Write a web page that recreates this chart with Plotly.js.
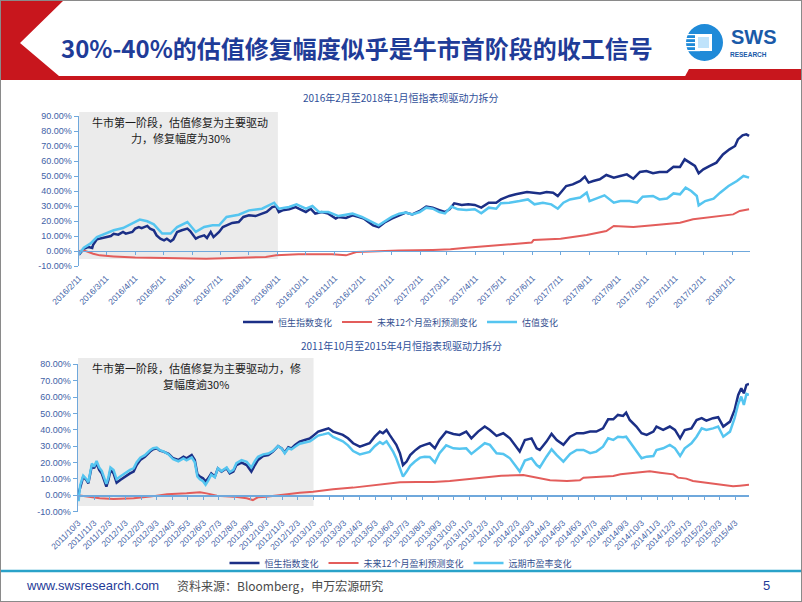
<!DOCTYPE html>
<html><head><meta charset="utf-8">
<script src="https://cdn.plot.ly/plotly-3.0.1.min.js"></script>
<style>html,body{margin:0;padding:0;background:#fff;overflow:hidden}#chart{width:802px;height:602px}</style>
</head><body><div id="chart"></div>
<script>
// ---------- Chart 1: 2016/2 - 2018/1 ----------
const c1HsiDates = ['2016-02-11','2016-02-12','2016-02-16','2016-02-21','2016-02-25','2016-02-26','2016-03-01','2016-03-04','2016-03-10','2016-03-16','2016-03-19','2016-03-24','2016-03-29','2016-04-01','2016-04-08','2016-04-11','2016-04-15','2016-04-18','2016-04-24','2016-04-27','2016-05-01','2016-05-04','2016-05-08','2016-05-12','2016-05-15','2016-05-19','2016-05-22','2016-05-26','2016-05-31','2016-06-06','2016-06-09','2016-06-15','2016-06-18','2016-06-24','2016-06-27','2016-07-01','2016-07-04','2016-07-10','2016-07-14','2016-07-18','2016-07-24','2016-07-31','2016-08-05','2016-08-11','2016-08-18','2016-08-25','2016-08-30','2016-09-05','2016-09-09','2016-09-12','2016-09-16','2016-09-23','2016-09-30','2016-10-05','2016-10-11','2016-10-16','2016-10-21','2016-10-28','2016-11-04','2016-11-12','2016-11-15','2016-11-23','2016-11-30','2016-12-07','2016-12-12','2016-12-17','2016-12-22','2016-12-28','2017-01-04','2017-01-11','2017-01-19','2017-01-26','2017-02-02','2017-02-10','2017-02-17','2017-02-24','2017-03-03','2017-03-09','2017-03-14','2017-03-19','2017-03-27','2017-04-03','2017-04-10','2017-04-17','2017-04-25','2017-05-03','2017-05-08','2017-05-17','2017-05-24','2017-06-05','2017-06-12','2017-06-19','2017-06-26','2017-07-03','2017-07-08','2017-07-12','2017-07-17','2017-07-24','2017-08-01','2017-08-06','2017-08-10','2017-08-15','2017-08-22','2017-08-29','2017-09-06','2017-09-13','2017-09-20','2017-09-27','2017-10-04','2017-10-11','2017-10-18','2017-10-25','2017-11-02','2017-11-09','2017-11-16','2017-11-21','2017-11-26','2017-12-02','2017-12-06','2017-12-11','2017-12-18','2017-12-25','2018-01-01','2018-01-08','2018-01-14','2018-01-17','2018-01-22','2018-01-26','2018-01-29'];
const c1HsiValues = [0,-1.5,1.5,2.7,2.0,4.2,7.8,8.2,8.7,10,11.5,10.9,12.7,11.6,12.7,14.9,16,15.3,16.7,14.9,13.8,10.4,8.2,7.1,8.2,6.4,7.8,12.7,13.8,14.9,13.3,8.2,9.3,10.4,8.7,12.7,9.3,12.7,16,17.1,18.7,19.3,22.7,23.8,23.3,24.9,26,29.3,29.8,26,27.1,27.8,29.3,27.8,26,28.2,24.9,26,24.9,21.6,22.7,22,23.8,22.7,21.6,19.3,17.1,16,19.3,21.6,23.5,25.6,24.4,26.7,29.6,28.9,27.3,26,27.8,31.8,30.7,31.1,30.7,28.9,32.2,32.2,34.4,36.7,37.8,39.3,38.9,38.4,39.3,38.9,36.7,40,43.3,44.4,46.7,49.6,45.6,46.7,47.8,50.7,48.9,50,51.1,48.2,52.7,53.3,51.8,52.7,52.7,56.2,56,61.1,59.3,56.7,51.8,54.4,56.7,58.9,64.4,67.8,70,74.4,77.1,77.8,76.7];

const c1EpsDates = ['2016-02-11','2016-02-16','2016-02-26','2016-03-04','2016-03-19','2016-03-29','2016-04-11','2016-05-13','2016-06-05','2016-06-26','2016-07-24','2016-08-29','2016-09-09','2016-10-03','2016-11-08','2016-11-23','2016-12-04','2016-12-21','2017-01-19','2017-02-24','2017-03-15','2017-04-01','2017-05-07','2017-06-10','2017-06-12','2017-07-11','2017-08-08','2017-08-29','2017-09-06','2017-09-27','2017-10-18','2017-11-16','2017-11-30','2017-12-22','2018-01-12','2018-01-19','2018-01-29'];
const c1EpsValues = [0,0.4,-1.8,-2.9,-3.6,-4,-4.4,-4.7,-4.9,-5.1,-4.7,-4,-2.9,-2.2,-2.2,-2.9,-0.7,-0.2,0.4,0.7,1.1,2.2,3.8,5.6,7.3,8.2,10.7,13.3,16.7,16,17.1,18.9,21.1,22.7,24.4,26.7,27.8];

const c1ValDates = ['2016-02-11','2016-02-12','2016-02-16','2016-02-23','2016-03-01','2016-03-10','2016-03-19','2016-03-29','2016-04-11','2016-04-16','2016-04-24','2016-05-01','2016-05-10','2016-05-19','2016-05-26','2016-06-06','2016-06-15','2016-06-24','2016-07-03','2016-07-10','2016-07-18','2016-07-31','2016-08-11','2016-08-25','2016-09-07','2016-09-12','2016-09-23','2016-10-01','2016-10-11','2016-10-18','2016-10-25','2016-11-04','2016-11-15','2016-11-30','2016-12-10','2016-12-17','2016-12-28','2017-01-11','2017-01-19','2017-01-26','2017-02-02','2017-02-10','2017-02-17','2017-02-24','2017-03-03','2017-03-09','2017-03-16','2017-03-23','2017-04-01','2017-04-10','2017-04-17','2017-04-25','2017-05-03','2017-05-08','2017-05-17','2017-05-28','2017-06-06','2017-06-13','2017-06-22','2017-07-01','2017-07-08','2017-07-14','2017-07-21','2017-08-01','2017-08-08','2017-08-11','2017-08-18','2017-08-27','2017-09-06','2017-09-13','2017-09-23','2017-10-01','2017-10-07','2017-10-18','2017-10-25','2017-11-02','2017-11-09','2017-11-16','2017-11-22','2017-11-28','2017-12-04','2017-12-06','2017-12-13','2017-12-22','2017-12-29','2018-01-07','2018-01-16','2018-01-23','2018-01-29'];
const c1ValValues = [0,-1,2.2,4.9,9.3,11.6,13.8,15.3,19.3,20.9,19.8,17.8,11.6,11.6,16,19.3,12.7,16,17.1,17.1,22.7,24.2,27.1,28.2,32.2,28.2,29.3,31.1,28.2,30,26,26,23.3,24.9,22.7,20.4,17.1,22.7,24.9,25.6,24.4,26,28.9,28.2,26,25.1,29.6,27.8,27.3,27.8,25.1,28.9,28.2,31.8,32.2,33.3,34.4,31.1,32.2,31.1,28.2,32.2,34.4,35.6,38.9,33.3,34.9,37.1,32.2,33.3,33.3,32.2,36.2,36.7,34.4,35,38.4,37.8,42.2,40,36.7,30.4,33.3,34.9,38.9,43.3,46.7,50,48.9];

const c1YTicks = [-10,0,10,20,30,40,50,60,70,80,90];
const c1YTickText = ['-10.00%','0.00%','10.00%','20.00%','30.00%','40.00%','50.00%','60.00%','70.00%','80.00%','90.00%'];

// ---------- Chart 2: 2011/10 - 2015/4 ----------
const c2HsiDates = ['2011-10-03','2011-10-07','2011-10-13','2011-10-19','2011-10-23','2011-10-30','2011-11-03','2011-11-08','2011-11-13','2011-11-18','2011-11-23','2011-11-27','2011-12-01','2011-12-05','2011-12-11','2011-12-17','2011-12-24','2012-01-02','2012-01-12','2012-01-19','2012-01-25','2012-02-01','2012-02-10','2012-02-20','2012-02-26','2012-03-04','2012-03-10','2012-03-17','2012-03-27','2012-04-05','2012-04-15','2012-04-25','2012-05-01','2012-05-11','2012-05-17','2012-05-22','2012-05-27','2012-06-02','2012-06-07','2012-06-12','2012-06-18','2012-06-25','2012-07-01','2012-07-08','2012-07-18','2012-07-24','2012-07-31','2012-08-06','2012-08-16','2012-08-26','2012-09-04','2012-09-11','2012-09-17','2012-09-27','2012-10-07','2012-10-16','2012-10-26','2012-11-02','2012-11-08','2012-11-15','2012-11-21','2012-11-28','2012-12-07','2012-12-17','2012-12-27','2013-01-02','2013-01-12','2013-01-22','2013-02-01','2013-02-10','2013-02-20','2013-03-01','2013-03-11','2013-03-21','2013-04-03','2013-04-12','2013-04-22','2013-05-02','2013-05-12','2013-05-18','2013-05-25','2013-05-31','2013-06-07','2013-06-13','2013-06-20','2013-06-26','2013-07-03','2013-07-10','2013-07-19','2013-07-29','2013-08-07','2013-08-17','2013-08-27','2013-09-05','2013-09-18','2013-10-02','2013-10-14','2013-10-27','2013-11-06','2013-11-19','2013-12-02','2013-12-12','2013-12-25','2014-01-07','2014-01-20','2014-02-02','2014-02-08','2014-02-18','2014-03-03','2014-03-13','2014-03-19','2014-04-01','2014-04-11','2014-04-21','2014-05-04','2014-05-17','2014-05-30','2014-06-12','2014-06-25','2014-07-07','2014-07-20','2014-07-30','2014-08-09','2014-08-18','2014-08-28','2014-09-03','2014-09-10','2014-09-23','2014-10-03','2014-10-13','2014-10-26','2014-11-01','2014-11-14','2014-11-27','2014-12-07','2014-12-17','2014-12-26','2015-01-08','2015-01-18','2015-01-28','2015-02-06','2015-02-19','2015-03-01','2015-03-11','2015-03-24','2015-04-02','2015-04-09','2015-04-15','2015-04-20','2015-04-25','2015-04-30'];
const c2HsiValues = [0,5.3,11.4,9.4,7.3,18.5,16.5,19.6,15.5,13.4,8.4,5.3,9.4,15.5,13.4,7.7,9.4,11.4,13.4,14.5,18.5,21.6,23.6,26.7,28.1,28.7,27.3,26.7,25.3,22.6,21.6,23.6,22.6,24.6,21.6,13,11.4,10.4,8.4,10.4,13.4,11.4,16.5,14.5,16.5,13.4,14.5,18.5,20,18.5,14.5,18.5,21.6,24,24.6,26.7,30.1,28.7,26.1,29.3,28.7,30.8,32.8,33.8,34.8,36.3,38.9,39.9,40.9,38.9,37.9,36.9,34.8,31.8,29.7,30.8,31.8,35.8,38.9,37.9,39.9,36.9,33.8,30.8,25.7,18.5,20.6,24.6,27.3,29.7,30.8,31.8,28.7,33.8,38.9,37.5,36.9,38.9,34.8,38.9,42,39.9,36.3,37.9,34.8,29.3,26.7,33.8,34.8,28.7,27.7,32.8,37.5,33.8,30.8,35.8,37.9,37.9,38.9,38.9,40.9,46.4,46.4,49.1,48.5,50.5,46,42,37.9,36.9,38.9,42,39.9,42,39.9,34.8,39.9,40.9,46,47.1,45.6,47.1,47.7,42,45,52.1,61.3,65.4,62.3,67.4,68];

const c2EpsDates = ['2011-10-03','2011-10-20','2011-11-14','2011-12-11','2012-01-19','2012-02-20','2012-03-24','2012-05-01','2012-05-27','2012-06-09','2012-06-29','2012-07-31','2012-08-26','2012-09-07','2012-09-17','2012-10-03','2012-10-29','2012-11-18','2012-12-07','2013-01-02','2013-02-10','2013-03-21','2013-04-16','2013-05-18','2013-06-20','2013-07-22','2013-08-24','2013-09-25','2013-10-27','2013-11-28','2014-01-03','2014-02-15','2014-02-28','2014-03-22','2014-04-08','2014-05-11','2014-06-05','2014-06-12','2014-07-14','2014-08-09','2014-08-23','2014-09-16','2014-10-19','2014-11-08','2014-12-04','2014-12-13','2014-12-29','2015-01-11','2015-02-06','2015-03-04','2015-03-30','2015-04-12','2015-04-30'];
const c2EpsValues = [0,-0.8,-1.8,-2.2,-1.8,-0.8,0.6,1.2,1.8,1.2,-0.2,-0.8,-1.8,-2.9,-1.2,-0.8,0.2,0.6,1.6,2.2,3.7,4.7,5.7,6.9,8,8.1,8.1,8.8,9.8,11.2,12,12.4,11.6,10.2,9.2,8.8,9.2,10.8,11.2,11.8,12.8,13.6,14.7,13.8,12.8,10.8,10.2,8.8,7.7,6.7,5.5,5.9,6.5];

const c2PeDates = ['2011-10-03','2011-10-04','2011-10-07','2011-10-13','2011-10-19','2011-10-23','2011-10-30','2011-11-03','2011-11-08','2011-11-13','2011-11-18','2011-11-23','2011-11-27','2011-12-01','2011-12-05','2011-12-11','2011-12-17','2011-12-24','2012-01-02','2012-01-12','2012-01-19','2012-01-25','2012-02-01','2012-02-10','2012-02-20','2012-02-26','2012-03-04','2012-03-10','2012-03-17','2012-03-27','2012-04-05','2012-04-15','2012-04-25','2012-05-01','2012-05-11','2012-05-17','2012-05-22','2012-05-27','2012-06-02','2012-06-07','2012-06-12','2012-06-18','2012-06-25','2012-07-01','2012-07-08','2012-07-18','2012-07-24','2012-07-31','2012-08-06','2012-08-16','2012-08-26','2012-09-04','2012-09-11','2012-09-17','2012-09-27','2012-10-07','2012-10-16','2012-10-26','2012-11-02','2012-11-08','2012-11-15','2012-11-21','2012-11-28','2012-12-07','2012-12-17','2012-12-27','2013-01-02','2013-01-12','2013-01-22','2013-02-01','2013-02-10','2013-02-20','2013-03-01','2013-03-11','2013-03-21','2013-04-03','2013-04-12','2013-04-22','2013-05-02','2013-05-12','2013-05-18','2013-05-25','2013-05-31','2013-06-07','2013-06-13','2013-06-20','2013-06-26','2013-07-03','2013-07-10','2013-07-19','2013-07-29','2013-08-07','2013-08-17','2013-08-27','2013-09-05','2013-09-18','2013-10-02','2013-10-14','2013-10-27','2013-11-06','2013-11-19','2013-12-02','2013-12-12','2013-12-25','2014-01-07','2014-01-20','2014-02-02','2014-02-08','2014-02-18','2014-03-03','2014-03-13','2014-03-19','2014-04-01','2014-04-11','2014-04-21','2014-05-04','2014-05-17','2014-05-30','2014-06-12','2014-06-25','2014-07-07','2014-07-20','2014-07-30','2014-08-09','2014-08-18','2014-08-28','2014-09-03','2014-09-10','2014-09-23','2014-10-03','2014-10-13','2014-10-26','2014-11-01','2014-11-14','2014-11-27','2014-12-07','2014-12-17','2014-12-26','2015-01-08','2015-01-18','2015-01-28','2015-02-06','2015-02-19','2015-03-01','2015-03-11','2015-03-24','2015-04-02','2015-04-09','2015-04-15','2015-04-20','2015-04-25','2015-04-30'];
const c2PeValues = [0,-3.5,6,12,10,8,19.5,17.5,21,17,15,10,7,11,17,15.5,9.8,11.5,13.5,15.5,16.5,20.2,23,24.5,27.5,28.8,29.2,27.6,26.8,25,22,20.8,22.5,21.4,23.2,20.2,11.5,9.8,8.6,6.5,9,12.6,11,16.5,14.8,17,14.2,15.5,19.6,21.5,20.5,17,21,23.5,25,25.5,27,30,28.5,25.7,28.7,28,29.7,31.5,32.3,33,34.2,36.5,37.2,38,35.6,34.2,33,30.5,27,25,25.8,26.5,30,32.5,31.3,33,30,26.5,22.5,17,11.4,14.5,18,20.6,23,23.6,23.4,20,25.7,30.5,28.7,28.5,28.7,25.3,28.7,31.8,30.8,25.7,25.3,22.6,17.1,14.5,21.2,22.6,18.5,17.1,23.6,28.1,24.6,20.6,25.3,27.7,27.7,25.7,26.7,29.7,34.8,33.8,35.8,35.5,35.8,32.8,26.7,22.6,23.6,24,27.7,28.7,30.8,28.7,24,28.7,31.8,35.8,40.9,39.9,40.9,42,35.8,38.9,47.1,55.8,60.3,55.2,61.9,61.3];

const c2YTicks = [-10,0,10,20,30,40,50,60,70,80];
const c2YTickText = ['-10.00%','0.00%','10.00%','20.00%','30.00%','40.00%','50.00%','60.00%','70.00%','80.00%'];

const seriesNames1 = ['恒生指数变化','未来12个月盈利预测变化','估值变化'];
const seriesNames2 = ['恒生指数变化','未来12个月盈利预测变化','远期市盈率变化'];

// ---------- styling helpers ----------
const W = 802, H = 602;
const px = x => x / W;
const py = y => 1 - y / H;
const C_HSI = '#1b2f86', C_EPS = '#e35d5b', C_PE = '#55c5f0';
const AX = '#6fa8dc', TICKC = '#4262a6';
const CJK = 'Noto Sans CJK SC, sans-serif';

const traces = [
  {x:c1HsiDates, y:c1HsiValues, name:seriesNames1[0], type:'scatter', mode:'lines', line:{color:C_HSI,width:2.5}, xaxis:'x', yaxis:'y', legend:'legend'},
  {x:c1EpsDates, y:c1EpsValues, name:seriesNames1[1], type:'scatter', mode:'lines', line:{color:C_EPS,width:2}, xaxis:'x', yaxis:'y', legend:'legend'},
  {x:c1ValDates, y:c1ValValues, name:seriesNames1[2], type:'scatter', mode:'lines', line:{color:C_PE,width:2.5}, xaxis:'x', yaxis:'y', legend:'legend'},
  {x:c2HsiDates, y:c2HsiValues, name:seriesNames2[0], type:'scatter', mode:'lines', line:{color:C_HSI,width:2.5}, xaxis:'x2', yaxis:'y2', legend:'legend2'},
  {x:c2EpsDates, y:c2EpsValues, name:seriesNames2[1], type:'scatter', mode:'lines', line:{color:C_EPS,width:2}, xaxis:'x2', yaxis:'y2', legend:'legend2'},
  {x:c2PeDates, y:c2PeValues, name:seriesNames2[2], type:'scatter', mode:'lines', line:{color:C_PE,width:2.5}, xaxis:'x2', yaxis:'y2', legend:'legend2'}
];

function xAxis(domain, zeroPy, range, tick0) {
  return {domain:domain, anchor:'free', position:py(zeroPy), type:'date', range:range,
    tick0:tick0, dtick:'M1', tickformat:'%Y/%-m/%-d', tickangle:-45,
    tickfont:{size:8.5, color:TICKC, family:'Liberation Sans, Arial, sans-serif'},
    ticks:'outside', ticklen:3, tickcolor:AX, showline:true, linecolor:AX, linewidth:1.5,
    showgrid:false, zeroline:false, ticklabelstandoff:15, fixedrange:true};
}
function yAxis(domain, anchor, range, tv, tt) {
  return {domain:domain, anchor:anchor, range:range, tickvals:tv, ticktext:tt,
    tickfont:{size:9, color:TICKC, family:'Liberation Sans, Arial, sans-serif'},
    ticks:'outside', ticklen:4, tickcolor:AX, showline:true, linecolor:AX, linewidth:1.5,
    showgrid:false, zeroline:false, fixedrange:true};
}

const legendStyle = y => ({orientation:'h', x:0.5, xanchor:'center', y:py(y), yanchor:'middle',
  font:{size:9, color:'#34508f', family:CJK}, bgcolor:'rgba(0,0,0,0)', traceorder:'normal', itemwidth:30});

const shapes = [
  // title banner red chevron
  {type:'path', xref:'paper', yref:'paper', layer:'above',
   path:`M ${px(0)},${py(0)} L ${px(64)},${py(0)} L ${px(20)},${py(43)} L ${px(59)},${py(76)} L ${px(802)},${py(76)} L ${px(802)},${py(80)} L ${px(0)},${py(80)} Z`,
   fillcolor:'#c8161d', line:{width:0}},
  {type:'path', xref:'paper', yref:'paper', layer:'above',
   path:`M ${px(683)},${py(80)} L ${px(689)},${py(69)} L ${px(802)},${py(69)} L ${px(802)},${py(80)} Z`,
   fillcolor:'#c8161d', line:{width:0}},
  // logo
  {type:'circle', xref:'paper', yref:'paper', x0:px(686), x1:px(723), y0:py(61), y1:py(24), fillcolor:'#1f8ad8', line:{width:0}},
  {type:'rect', xref:'paper', yref:'paper', x0:px(686), x1:px(700), y0:py(34), y1:py(35.2), fillcolor:'#ffffff', line:{width:0}},
  {type:'rect', xref:'paper', yref:'paper', x0:px(686), x1:px(700), y0:py(38), y1:py(39.2), fillcolor:'#ffffff', line:{width:0}},
  {type:'rect', xref:'paper', yref:'paper', x0:px(686), x1:px(700), y0:py(42), y1:py(43.2), fillcolor:'#ffffff', line:{width:0}},
  {type:'rect', xref:'paper', yref:'paper', x0:px(686), x1:px(700), y0:py(46), y1:py(47.2), fillcolor:'#ffffff', line:{width:0}},
  {type:'rect', xref:'paper', yref:'paper', x0:px(686), x1:px(700), y0:py(50), y1:py(51.2), fillcolor:'#ffffff', line:{width:0}},
  {type:'rect', xref:'paper', yref:'paper', x0:px(695), x1:px(712), y0:py(51), y1:py(34), fillcolor:'#ffffff', line:{width:0}},
  {type:'rect', xref:'paper', yref:'paper', x0:px(698), x1:px(709), y0:py(48), y1:py(37), fillcolor:'#bfe3fb', line:{width:0}},
  // grey highlight boxes
  {type:'rect', xref:'x', yref:'paper', x0:'2016-02-11', x1:'2016-09-11', y0:py(259), y1:py(112), fillcolor:'#ebebeb', line:{width:0}, layer:'below'},
  {type:'rect', xref:'x2', yref:'paper', x0:'2011-10-03', x1:'2013-01-03', y0:py(506), y1:py(358), fillcolor:'#ebebeb', line:{width:0}, layer:'below'},
  // footer teal line
  {type:'line', xref:'paper', yref:'paper', x0:0, x1:1, y0:py(571), y1:py(571), line:{color:'#2aa2c9', width:2.5}},
  // slide border
  {type:'rect', xref:'paper', yref:'paper', x0:0, x1:1, y0:0, y1:1, line:{color:'#8a8a8a', width:2}, fillcolor:'rgba(0,0,0,0)', layer:'above'}
];

const note = (t, x, y) => ({text:t, xref:'paper', yref:'paper', x:px(x), y:py(y), xanchor:'center', yanchor:'middle', showarrow:false,
   borderpad:0, font:{size:11, color:'#1a1a1a', family:CJK}});

const annotations = [
  {text:'<b>30%-40%的估值修复幅度似乎是牛市首阶段的收工信号</b>', xref:'paper', yref:'paper', x:px(357), y:py(47), xanchor:'center', yanchor:'middle', showarrow:false,
   font:{size:24, color:'#1f3c98', family:CJK}},
  {text:'<b>SWS</b>', xref:'paper', yref:'paper', x:px(754), y:py(37), xanchor:'center', yanchor:'middle', showarrow:false,
   font:{size:20, color:'#1a5aa8', family:'Liberation Sans, Arial, sans-serif'}},
  {text:'<b>RESEARCH</b>', xref:'paper', yref:'paper', x:px(748), y:py(55), xanchor:'center', yanchor:'middle', showarrow:false,
   font:{size:6.5, color:'#1a5aa8', family:'Liberation Sans, Arial, sans-serif'}},
  {text:'2016年2月至2018年1月恒指表现驱动力拆分', xref:'paper', yref:'paper', x:px(401), y:py(97), xanchor:'center', yanchor:'middle', showarrow:false,
   font:{size:10, color:'#2f4f9a', family:CJK}},
  {text:'2011年10月至2015年4月恒指表现驱动力拆分', xref:'paper', yref:'paper', x:px(401), y:py(345), xanchor:'center', yanchor:'middle', showarrow:false,
   font:{size:10, color:'#2f4f9a', family:CJK}},
  note('牛市第一阶段，估值修复为主要驱动', 180, 122),
  note('力，修复幅度为30%', 180, 137.5),
  note('牛市第一阶段，估值修复为主要驱动力，修', 196, 368),
  note('复幅度逾30%', 196, 383.5),
  {text:'www.swsresearch.com', xref:'paper', yref:'paper', x:px(24), y:py(585), xanchor:'left', yanchor:'middle', showarrow:false,
   font:{size:13, color:'#1f3c98', family:'Liberation Sans Narrow, Liberation Sans, Arial, sans-serif'}},
  {text:'资料来源：Bloomberg，申万宏源研究', xref:'paper', yref:'paper', x:px(175), y:py(585), xanchor:'left', yanchor:'middle', showarrow:false,
   font:{size:12, color:'#4a4a4a', family:CJK}},
  {text:'5', xref:'paper', yref:'paper', x:px(766), y:py(585), xanchor:'center', yanchor:'middle', showarrow:false,
   font:{size:13, color:'#1f3c98', family:'Liberation Sans, Arial, sans-serif'}}
];

const layout = {
  width:W, height:H, margin:{l:0,r:0,t:0,b:0,pad:0},
  paper_bgcolor:'#ffffff', plot_bgcolor:'rgba(0,0,0,0)',
  font:{family:'Liberation Sans, Noto Sans CJK SC, sans-serif'},
  showlegend:true,
  xaxis: xAxis([px(79), px(750)], 250.5, ['2016-02-10 20:00','2018-01-30'], '2016-02-11'),
  yaxis: yAxis([py(266), py(116)], 'x', [-10,90], c1YTicks, c1YTickText),
  xaxis2: xAxis([px(78), px(749)], 495.3, ['2011-10-02 20:00','2015-04-30'], '2011-10-03'),
  yaxis2: yAxis([py(511.7), py(364.3)], 'x2', [-10,80], c2YTicks, c2YTickText),
  legend: legendStyle(322),
  legend2: legendStyle(563),
  shapes:shapes,
  annotations:annotations
};

Plotly.newPlot('chart', traces, layout, {displayModeBar:false, staticPlot:true});
</script></body></html>
